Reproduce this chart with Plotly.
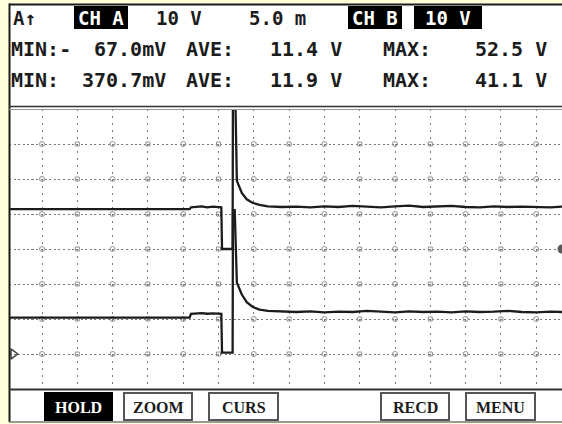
import plotly.graph_objects as go

W, H = 562, 424

# ---------------- data (time in ms, 5 ms/div; volts, 10 V/div) ----------------
time_a = [-4.7, 20.9, 21.1, 22.6, 23.4, 24.2, 25.4, 25.5, 27.0, 27.05, 27.3, 27.6,
          28.3, 29.0, 29.8, 30.8, 32.0, 34.0, 36.0, 38.0, 40.0, 42.0, 44.0, 46.0,
          48.0, 50.0, 52.0, 54.0, 56.0, 58.0, 60.0, 62.0, 64.0, 66.0, 68.0, 70.0,
          72.0, 73.7]
volt_a = [11.4, 11.4, 11.9, 12.2, 11.9, 12.1, 11.9, 0.0, 0.0, 52.5, 52.5, 19.5,
          16.0, 14.2, 13.2, 12.6, 12.2, 12.0, 12.1, 11.9, 12.2, 12.0, 12.3, 12.1,
          11.9, 12.2, 12.4, 12.0, 12.1, 12.3, 12.0, 11.9, 12.2, 12.0, 12.1, 12.0,
          11.9, 12.1]

time_b = [-4.7, 20.9, 21.1, 22.6, 23.4, 24.2, 25.4, 25.5, 27.0, 27.05, 27.3, 27.6,
          28.3, 29.0, 29.8, 30.8, 32.0, 34.0, 36.0, 38.0, 40.0, 42.0, 44.0, 46.0,
          48.0, 50.0, 52.0, 54.0, 56.0, 58.0, 60.0, 62.0, 64.0, 66.0, 68.0, 70.0,
          72.0, 73.7]
volt_b = [10.4, 10.4, 11.5, 11.7, 11.5, 11.6, 11.5, 0.4, 0.4, 41.1, 41.1, 20.4,
          17.0, 14.8, 13.5, 12.7, 12.3, 12.1, 12.0, 12.2, 11.9, 12.1, 12.0, 12.3,
          12.0, 11.9, 12.2, 12.0, 12.1, 11.9, 12.2, 12.0, 12.1, 12.3, 12.0, 11.9,
          12.1, 12.0]

header_row1 = ["A\u2191", "CH A", "10 V", "5.0 m", "CH B", "10 V"]
row_a_labels = ["MIN:-", "67.0mV", "AVE:", "11.4 V", "MAX:", "52.5 V"]
row_b_labels = ["MIN:", "370.7mV", "AVE:", "11.9 V", "MAX:", "41.1 V"]
buttons = ["HOLD", "ZOOM", "CURS", "RECD", "MENU"]

# ---------------- geometry ----------------
ML, MR, MT, MB = 9, 0, 109, 35
PW, PH = W - ML - MR, H - MT - MB


def px(x):
    return (x - ML) / PW


def py(y):
    return (H - MB - y) / PH


X0 = -33 / 7.06
XR = [X0, X0 + PW / 7.06]

INK = "#1c1c1c"
GRID = "#7a7a7a"
BG = "#FFFFDC"

fig = go.Figure()

# grid intersection marks
gx = [5 * k for k in range(15)]
gy = [-30, -20, -10, 0, 10, 20, 30]
cx, cy, sx, sy = [], [], [], []
for k, x in enumerate(gx):
    for y in gy:
        if k % 2 == 0:
            cx.append(x); cy.append(y)
        else:
            sx.append(x); sy.append(y)
fig.add_trace(go.Scatter(x=cx, y=cy, mode="markers", hoverinfo="skip",
                         marker=dict(symbol="circle-open", size=5, color="#909090",
                                     line=dict(width=1)), showlegend=False))
fig.add_trace(go.Scatter(x=sx, y=sy, mode="markers", hoverinfo="skip",
                         marker=dict(symbol="square-open", size=4, color="#909090",
                                     line=dict(width=1)), showlegend=False))

fig.add_trace(go.Scatter(x=time_a, y=volt_a, mode="lines", name="CH A",
                         line=dict(color=INK, width=2.3), showlegend=False))
fig.add_trace(go.Scatter(x=time_b, y=volt_b, mode="lines", name="CH B", yaxis="y2",
                         line=dict(color=INK, width=2.3), showlegend=False))

# channel zero markers
fig.add_trace(go.Scatter(x=[XR[1]], y=[0], mode="markers", cliponaxis=False,
                         marker=dict(symbol="circle", size=9, color="#5a5a5a"),
                         showlegend=False, hoverinfo="skip"))
fig.add_trace(go.Scatter(x=[XR[0] + 0.6], y=[0], yaxis="y2", mode="markers", cliponaxis=False,
                         marker=dict(symbol="triangle-right-open", size=9, color="#444",
                                     line=dict(width=1.5)),
                         showlegend=False, hoverinfo="skip"))

shapes = []
shapes.append(dict(type="rect", xref="paper", yref="paper", x0=px(9), x1=px(W + 2),
                   y0=py(422), y1=py(4), fillcolor="white", line=dict(width=0), layer="below"))
shapes.append(dict(type="line", xref="paper", yref="paper", x0=px(9.5), x1=px(9.5),
                   y0=py(422), y1=py(3.5), line=dict(color=INK, width=2)))
shapes.append(dict(type="line", xref="paper", yref="paper", x0=px(9), x1=px(W + 2),
                   y0=py(4.5), y1=py(4.5), line=dict(color=INK, width=2)))
shapes.append(dict(type="line", xref="paper", yref="paper", x0=px(9), x1=px(W + 2),
                   y0=py(422), y1=py(422), line=dict(color="#777", width=1.5)))
shapes.append(dict(type="line", xref="paper", yref="paper", x0=px(9), x1=px(W + 2),
                   y0=py(106.5), y1=py(106.5), line=dict(color="#333", width=1.5)))
shapes.append(dict(type="line", xref="paper", yref="paper", x0=px(9), x1=px(W + 2),
                   y0=py(109.5), y1=py(109.5), line=dict(color="#999", width=1)))
shapes.append(dict(type="line", xref="paper", yref="paper", x0=px(9), x1=px(W + 2),
                   y0=py(389.5), y1=py(389.5), line=dict(color="#333", width=2.2)))

annotations = []


def text(x, y, s, size=20, color=INK, family="DejaVu Sans Mono", bold=True):
    annotations.append(dict(x=px(x), y=py(y), xref="paper", yref="paper", text=s,
                            showarrow=False, xanchor="center", yanchor="middle",
                            font=dict(family=family, size=size, color=color,
                                      weight="bold" if bold else "normal")))


row1_pos = [24, 101, 179, 277, 375, 448]
inv_boxes = {1: (74, 128), 4: (348, 402), 5: (414, 482)}
for i, (lab, xc) in enumerate(zip(header_row1, row1_pos)):
    if i in inv_boxes:
        a, b = inv_boxes[i]
        shapes.append(dict(type="rect", xref="paper", yref="paper", x0=px(a), x1=px(b),
                           y0=py(29), y1=py(6), fillcolor="black", line=dict(width=0)))
        text(xc, 18, lab, size=19, color="white")
    else:
        text(xc, 18, lab, size=19)

row_pos = [41, 130, 209.5, 306, 407, 511]
row_pos_b = [35, 124, 209.5, 306, 407, 511]
for lab, xc in zip(row_a_labels, row_pos):
    text(xc, 48.5, lab)
for lab, xc in zip(row_b_labels, row_pos_b):
    text(xc, 80.5, lab)

btn_x = [(44, 113), (124, 192), (209, 278), (381, 449), (466, 535)]
for i, (lab, (a, b)) in enumerate(zip(buttons, btn_x)):
    if i == 0:
        shapes.append(dict(type="rect", xref="paper", yref="paper", x0=px(a), x1=px(b),
                           y0=py(421), y1=py(392), fillcolor="black", line=dict(width=0)))
        col = "white"
    else:
        shapes.append(dict(type="rect", xref="paper", yref="paper", x0=px(a), x1=px(b),
                           y0=py(420), y1=py(393), fillcolor="white",
                           line=dict(color="#555", width=2)))
        col = INK
    text((a + b) / 2, 407, lab, size=16, color=col, family="Liberation Serif")

fig.update_layout(
    width=W, height=H,
    margin=dict(l=ML, r=MR, t=MT, b=MB, pad=0),
    paper_bgcolor=BG, plot_bgcolor="white",
    showlegend=False,
    xaxis=dict(range=XR, dtick=5, tick0=0, showgrid=True, gridcolor=GRID, gridwidth=1,
               griddash="2px,5px", zeroline=False, showticklabels=False, ticks="",
               showline=False),
    yaxis=dict(range=[-40, 40], dtick=10, tick0=0, showgrid=True, gridcolor=GRID,
               gridwidth=1, griddash="2px,2.5px", zeroline=False, showticklabels=False,
               ticks="", showline=False),
    yaxis2=dict(range=[-10, 70], overlaying="y", showgrid=False, zeroline=False,
                showticklabels=False, ticks="", showline=False),
    shapes=shapes, annotations=annotations,
)

fig.write_html("out.html", config={"displayModeBar": False},
               post_script="document.body.style.margin='0';"
                           "document.body.style.background='%s';" % BG)
